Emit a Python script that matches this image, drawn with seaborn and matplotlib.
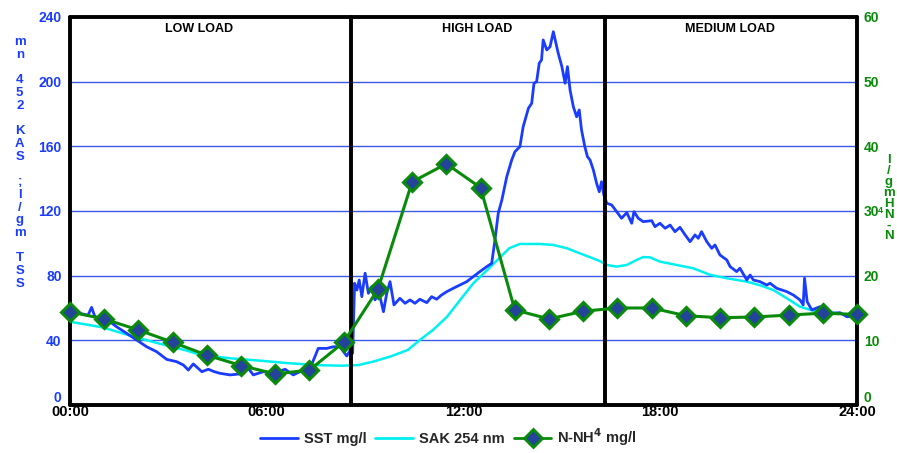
import numpy as np
import matplotlib
matplotlib.use("Agg")
import matplotlib.pyplot as plt
import matplotlib.transforms as mtransforms
from matplotlib.lines import Line2D
import seaborn as sns

# ============================================================
# DATA
# ============================================================
sst_hours = [0.0, 0.3, 0.55, 0.66, 0.76, 1.0, 1.22, 1.42, 1.73, 2.03, 2.34, 2.64, 2.95, 3.25,
             3.46, 3.61, 3.76, 4.02, 4.22, 4.4, 4.57, 4.88, 5.18, 5.44, 5.59, 5.9, 6.2, 6.56,
             6.81, 7.01, 7.32, 7.47, 7.57, 7.83, 8.03, 8.23, 8.44, 8.55, 8.62, 8.68, 8.75, 8.82,
             8.9, 9.0, 9.1, 9.2, 9.3, 9.43, 9.56, 9.66, 9.76, 9.88, 10.06, 10.22, 10.37, 10.52,
             10.67, 10.88, 11.03, 11.18, 11.33, 11.49, 11.69, 11.89, 12.1, 12.3, 12.5, 12.71,
             12.86, 12.96, 13.06, 13.17, 13.32, 13.47, 13.57, 13.72, 13.82, 13.98, 14.08, 14.15,
             14.23, 14.31, 14.38, 14.43, 14.54, 14.64, 14.74, 14.82, 14.89, 15.0, 15.1, 15.17,
             15.25, 15.35, 15.45, 15.53, 15.6, 15.7, 15.78, 15.86, 15.96, 16.06, 16.14, 16.21,
             16.28, 16.37, 16.52, 16.67, 16.82, 16.98, 17.13, 17.2, 17.33, 17.48, 17.74, 17.84,
             17.99, 18.15, 18.3, 18.45, 18.6, 18.76, 18.91, 19.06, 19.16, 19.26, 19.42, 19.57,
             19.67, 19.82, 20.03, 20.13, 20.33, 20.43, 20.64, 20.74, 20.84, 21.04, 21.25, 21.35,
             21.55, 21.86, 22.06, 22.26, 22.36, 22.4, 22.48, 22.62, 22.87, 23.18, 23.48, 23.69,
             24.0]
sst_values = [57.7, 56.7, 55.5, 60.4, 54.6, 53.6, 51.5, 48.4, 44.3, 40.2, 36.0, 33.0, 28.2, 26.8,
              24.7, 21.6, 25.4, 20.6, 22.1, 20.6, 19.6, 18.6, 19.2, 22.7, 18.6, 20.6, 19.6, 22.1,
              18.6, 20.6, 22.7, 29.9, 35.0, 35.0, 36.0, 36.0, 30.3, 34.0, 32.0, 75.3, 71.1, 77.3,
              67.0, 81.5, 69.1, 73.2, 65.0, 69.1, 57.7, 69.1, 76.3, 61.9, 66.0, 62.9, 65.0, 62.9,
              65.4, 63.3, 67.0, 65.4, 68.0, 70.1, 72.2, 74.2, 76.3, 79.4, 82.5, 85.6,
              87.6, 102.0, 118.6, 126.8, 141.2, 151.5, 156.7, 159.8, 172.1, 183.5, 186.6, 199.0,
              200.0, 211.4, 213.4, 225.8, 219.6, 221.6, 230.9, 223.7, 217.5, 209.3, 199.0, 209.3,
              194.8, 184.5, 178.3, 182.5, 170.1, 159.8, 153.6, 151.5, 145.4, 137.1, 131.9, 138.1,
              129.9, 124.8, 123.7, 119.6, 115.5, 119.0, 112.4, 119.6, 115.5, 113.4, 114.0, 110.3,
              112.4, 109.3, 111.3, 107.2, 109.9, 105.2, 101.0, 105.2, 103.1, 107.2, 101.0, 96.9,
              99.0, 92.8, 89.7, 85.6, 82.5, 84.6, 77.3, 80.4, 77.3, 76.3, 74.2, 75.3,
              72.2, 70.1, 68.0, 65.0, 61.9, 78.4, 63.9, 58.8, 60.8, 56.7, 57.1, 54.6,
              55.0]

sak_hours = [0, 1, 2, 3, 3.5, 4, 4.88, 5.8, 6.7, 7.6, 8.3, 8.8, 9.24, 9.76, 10.3, 10.67, 11.07,
             11.5, 11.9, 12.3, 12.7, 13.1, 13.4, 13.72, 14.33, 14.74, 15.16, 15.55, 15.95, 16.16,
             16.37, 16.67, 16.98, 17.28, 17.48, 17.69, 17.99, 18.5, 19.0, 19.52, 20.03, 20.64,
             21.05, 21.45, 21.86, 22.26, 22.67, 23.3, 24]
sak_values = [51.5, 48.0, 41.9, 36.5, 34.0, 30.9, 28.9, 27.4, 25.8, 24.6, 24.3, 24.7, 26.8, 29.9,
              34.0, 40.2, 46.4, 54.6, 65.0, 75.3, 83.0, 91.0, 97.0, 99.6, 99.6, 99.0, 96.9, 93.8,
              90.7, 89.0, 86.6, 85.6, 86.6, 89.7, 91.5, 91.3, 88.7, 86.6, 84.6, 80.5, 78.4, 76.3,
              74.0, 71.1, 66.0, 60.8, 58.3, 57.0, 55.0]

# 24 hourly samples spread over the full day axis
nh4_hours = list(np.linspace(0, 24, 24))
nh4_values = [14.4, 13.3, 11.6, 9.7, 7.7, 6.1, 4.8, 5.4, 9.7, 17.9, 34.5, 37.3, 33.6, 14.7,
              13.3, 14.5, 15.0, 15.0, 13.8, 13.5, 13.6, 13.9, 14.2, 14.0]

zones = ['LOW LOAD', 'HIGH LOAD', 'MEDIUM LOAD']
zone_label_x = [3.93, 12.41, 20.13]
zone_bounds = [0, 8.57, 16.31, 24]

x_ticks = [0, 6, 12, 18, 24]
x_labels = ['00:00', '06:00', '12:00', '18:00', '24:00']

# ============================================================
# STYLE
# ============================================================
sns.set_theme(style="white")
NARROW = ['Liberation Sans Narrow', 'Liberation Sans', 'DejaVu Sans']
WIDE = ['Liberation Sans', 'DejaVu Sans']
plt.rcParams['font.family'] = NARROW
plt.rcParams['font.weight'] = 'bold'

BLUE = '#1a3cff'
CYAN = '#00f0f0'
GREEN = '#0a8a0a'
GRID = '#3a5ae8'

fig = plt.figure(figsize=(8.97, 4.53), dpi=100)
ax = fig.add_axes([0.078, 0.106, 0.8774, 0.8565])
ax2 = ax.twinx()

# horizontal grid
for v in [40, 80, 120, 160, 200]:
    ax.axhline(v, color=GRID, lw=1.0, zorder=1)

sns.lineplot(x=sst_hours, y=sst_values, ax=ax, color=BLUE, lw=2.0, sort=False, zorder=3)
sns.lineplot(x=sak_hours, y=sak_values, ax=ax, color=CYAN, lw=1.8, sort=False, zorder=2)
sns.lineplot(x=nh4_hours, y=nh4_values, ax=ax2, color=GREEN, lw=2.2, marker='D',
             markersize=9, markerfacecolor='#24449a', markeredgecolor=GREEN,
             markeredgewidth=2.2, clip_on=False, zorder=4)

ax.set_xlim(0, 24)
ax.set_ylim(0, 240)
ax2.set_ylim(0, 60)
ax.set_yticks([0, 40, 80, 120, 160, 200, 240])
ax2.set_yticks([0, 10, 20, 30, 40, 50, 60])
ax.set_xticks(x_ticks)
ax.set_xticklabels(x_labels, fontsize=10.5, color='black', fontweight='bold')
ax.tick_params(axis='x', direction='in', length=5, color='#777777', pad=0)
ax.tick_params(axis='y', length=0, labelsize=10, labelcolor=BLUE, pad=6)
ax2.tick_params(axis='y', length=0, labelsize=10, labelcolor=GREEN, pad=5)
for lab in ax.get_yticklabels() + ax2.get_yticklabels():
    lab.set_fontfamily(WIDE)
    lab.set_fontweight('bold')

# lift the two "0" labels clear of the time labels
lift = mtransforms.ScaledTranslation(0, 6 / 72, fig.dpi_scale_trans)
for a in (ax, ax2):
    zero_lab = a.get_yticklabels()[0]
    zero_lab.set_transform(zero_lab.get_transform() + lift)

ax.set_xlabel('')
ax.set_ylabel('')
ax2.set_ylabel('')

for sp in ax.spines.values():
    sp.set_visible(False)
for sp in ax2.spines.values():
    sp.set_visible(False)

# black zone frames
for b in zone_bounds:
    ax.axvline(b, color='black', lw=2.8, zorder=5, clip_on=False)
ax.axhline(240, color='black', lw=2.8, zorder=5, clip_on=False)
ax.axhline(0, color='black', lw=2.8, zorder=5, clip_on=False)

for name, xpos in zip(zones, zone_label_x):
    ax.text(xpos, 0.968, name, transform=ax.get_xaxis_transform(), ha='center', va='center',
            fontsize=9, fontweight='bold', family=WIDE, color='black')

# stacked axis titles
left_lbl = 'SST mg/l; SAK 254 nm'[::-1]
fig.text(0.022, 0.92, '\n'.join(left_lbl), ha='center', va='top', fontsize=9.5,
         fontweight='bold', family=WIDE, color=BLUE, linespacing=1.08)
right_lbl = ['l', '/', 'g', 'm', 'H', 'N', '-', 'N']
fig.text(0.991, 0.66, '\n'.join(right_lbl), ha='center', va='top', fontsize=9.5,
         fontweight='bold', family=WIDE, color=GREEN, linespacing=0.88)
fig.text(0.9815, 0.535, '4', ha='center', va='center', fontsize=6.5,
         fontweight='bold', family=WIDE, color=GREEN)

# legend
handles = [Line2D([], [], color=BLUE, lw=2),
           Line2D([], [], color=CYAN, lw=2),
           Line2D([], [], color=GREEN, lw=2, marker='D', markersize=9,
                  markerfacecolor='#24449a', markeredgecolor=GREEN, markeredgewidth=2)]
labels = ['SST mg/l', 'SAK 254 nm', r'N-NH$^{\mathbf{4}}$ mg/l']
fig.legend(handles, labels, loc='center', bbox_to_anchor=(0.5, 0.035), ncol=3, frameon=False,
           fontsize=10.5, handlelength=2.6, handletextpad=0.4, columnspacing=0.6)

plt.savefig('out.png', dpi=100)
